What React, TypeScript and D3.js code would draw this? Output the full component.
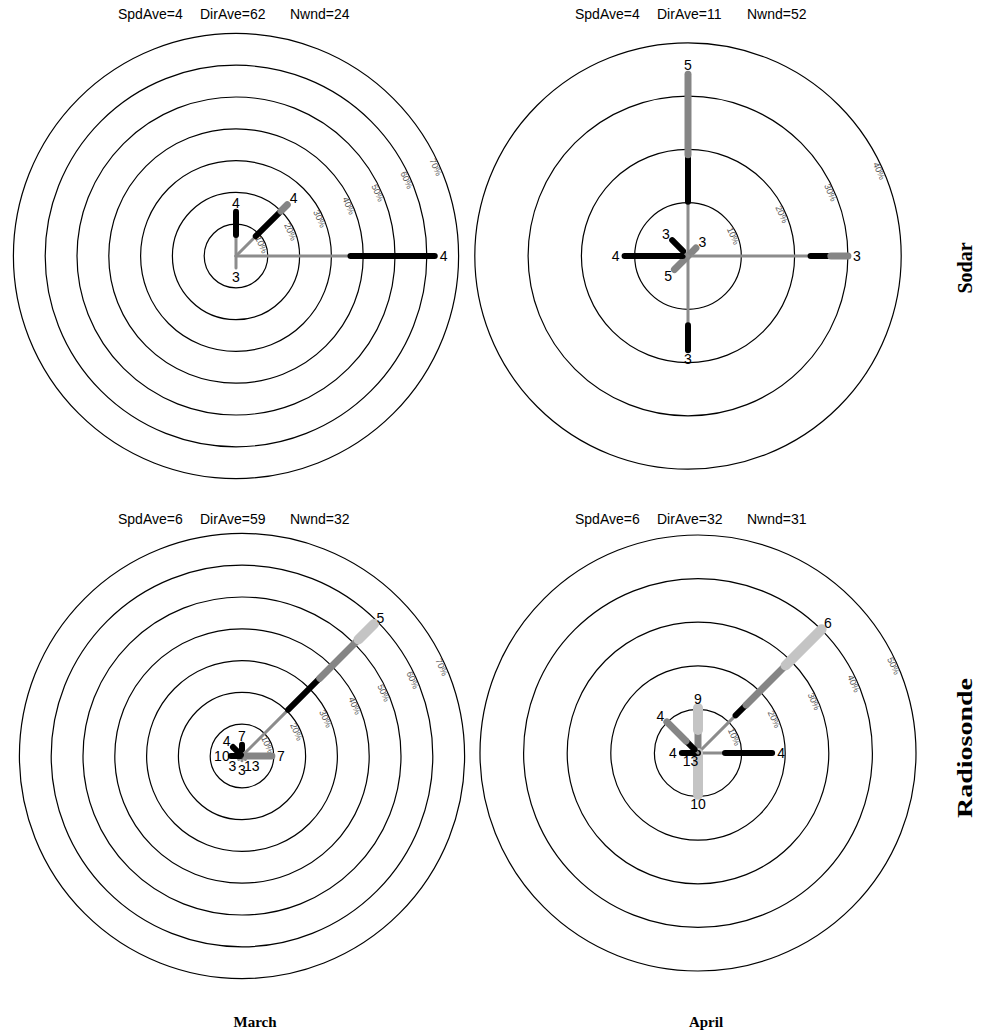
import React from 'react';
import * as d3 from 'd3';

// compass bearings, clockwise from north
const directions = [0, 45, 90, 135, 180, 225, 270, 315];
const ringPercents = [10, 20, 30, 40, 50, 60, 70];
// speed classes, stacked from the centre outwards
const speedClasses = ['c1', 'c2', 'c3', 'c4'];

// percent of winds per direction and speed class
const marchSodarPct = [
  [6.6, 7.3, 0, 0],
  [8.8, 11.2, 2.8, 0],
  [36, 26.5, 0, 0],
  [0, 0, 0, 0],
  [3.8, 0, 0, 0],
  [0, 0, 0, 0],
  [0, 0, 0, 0],
  [0, 0, 0, 0],
];
const marchSodarTip = [4, 4, 4, null, 3, null, null, null];

const aprilSodarPct = [
  [10.2, 8.8, 15.1, 0],
  [0.5, 0, 1.6, 0],
  [23, 3.8, 3.2, 0],
  [0, 0, 0, 0],
  [13, 4.7, 0, 0],
  [0, 0, 3.6, 0],
  [1, 10.9, 0, 0],
  [1.3, 2.9, 0, 0],
];
const aprilSodarTip = [5, 3, 3, null, 3, 5, 4, 3];

const marchRadioPct = [
  [2, 1.5, 0, 0],
  [20.5, 14.1, 17.2, 6.9],
  [0.8, 0, 8.6, 0],
  [1.5, 0, 0, 0],
  [1.5, 0, 0, 0],
  [1.5, 0, 0, 0],
  [0.5, 3, 0, 0],
  [0.5, 3.5, 0, 0],
];
const marchRadioTip = [7, 5, 7, 13, 3, 3, 10, 4];

const aprilRadioPct = [
  [1.1, 0, 4.2, 5.0],
  [12.2, 3.4, 12.8, 11.7],
  [6.2, 10.8, 0, 0],
  [0, 0, 0, 0],
  [0, 0, 0, 9.6],
  [0.4, 0, 0, 0],
  [0, 3.7, 0, 0],
  [1.1, 2.8, 6.2, 0],
];
const aprilRadioTip = [9, 6, 4, null, 10, 13, 4, 4];

const marchSodarStats = ['SpdAve=4', 'DirAve=62', 'Nwnd=24'];
const aprilSodarStats = ['SpdAve=4', 'DirAve=11', 'Nwnd=52'];
const marchRadioStats = ['SpdAve=6', 'DirAve=59', 'Nwnd=32'];
const aprilRadioStats = ['SpdAve=6', 'DirAve=32', 'Nwnd=31'];

const classStyle = [
  { stroke: '#8c8c8c', width: 3 },
  { stroke: '#000000', width: 6 },
  { stroke: '#858585', width: 7 },
  { stroke: '#c4c4c4', width: 10 },
];

const sans = '"Liberation Sans", Arial, sans-serif';
const serif = '"Liberation Serif", "Times New Roman", serif';
const labelBearing = 66;

function Rose({ cx, cy, rings, ringPx, pct, tips }) {
  const r = d3.scaleLinear().domain([0, 10]).range([0, ringPx]);
  const rad = (deg) => (deg * Math.PI) / 180;
  const pt = (deg, v) => d3.pointRadial(rad(deg), r(v));

  return (
    <g transform={`translate(${cx},${cy})`}>
      {ringPercents.slice(0, rings).map((p) => (
        <circle key={p} r={r(p)} fill="none" stroke="#000" strokeWidth={1.2} />
      ))}
      {ringPercents.slice(0, rings).map((p) => {
        const [x, y] = d3.pointRadial(rad(labelBearing), r(p) - 4);
        return (
          <text
            key={'l' + p}
            transform={`translate(${x},${y}) rotate(${labelBearing})`}
            textAnchor="middle"
            dominantBaseline="central"
            fontFamily={sans}
            fontSize={9}
            fill="#555"
          >
            {p}%
          </text>
        );
      })}
      {directions.map((dir, i) => {
        const cum = [0, ...d3.cumsum(pct[i])];
        return speedClasses.map((c, k) => {
          if (pct[i][k] <= 0) return null;
          const [x1, y1] = pt(dir, cum[k]);
          const [x2, y2] = pt(dir, cum[k + 1]);
          return (
            <line
              key={dir + c}
              x1={x1}
              y1={y1}
              x2={x2}
              y2={y2}
              stroke={classStyle[k].stroke}
              strokeWidth={classStyle[k].width}
              strokeLinecap="round"
            />
          );
        });
      })}
      {directions.map((dir, i) => {
        if (tips[i] == null) return null;
        const total = d3.sum(pct[i]);
        const [x, y] = d3.pointRadial(rad(dir), r(total) + 9);
        return (
          <text
            key={'t' + dir}
            x={x}
            y={y}
            textAnchor="middle"
            dominantBaseline="central"
            fontFamily={sans}
            fontSize={14}
            fill="#000"
          >
            {tips[i]}
          </text>
        );
      })}
    </g>
  );
}

function Stats({ x, y, stats }) {
  const offs = [0, 82, 172];
  return (
    <g fontFamily={sans} fontSize={14} fill="#000">
      {stats.map((s, i) => (
        <text key={s} x={x + offs[i]} y={y}>
          {s}
        </text>
      ))}
    </g>
  );
}

export default function App() {
  return (
    <svg
      width={984}
      height={1031}
      style={{ position: 'absolute', left: 0, top: 0, display: 'block', background: '#fff' }}
    >
      <Stats x={118} y={19} stats={marchSodarStats} />
      <Stats x={575} y={19} stats={aprilSodarStats} />
      <Stats x={118} y={524} stats={marchRadioStats} />
      <Stats x={575} y={524} stats={aprilRadioStats} />

      <Rose cx={236} cy={256} rings={7} ringPx={31.8} pct={marchSodarPct} tips={marchSodarTip} />
      <Rose cx={688} cy={256} rings={4} ringPx={53.3} pct={aprilSodarPct} tips={aprilSodarTip} />
      <Rose cx={242} cy={756} rings={7} ringPx={31.8} pct={marchRadioPct} tips={marchRadioTip} />
      <Rose cx={698} cy={753} rings={5} ringPx={43.6} pct={aprilRadioPct} tips={aprilRadioTip} />

      <text
        transform="translate(972,268) rotate(-90)"
        textAnchor="middle"
        fontFamily={serif}
        fontWeight="bold"
        fontSize={20}
      >
        Sodar
      </text>
      <text
        transform="translate(972,748) rotate(-90)"
        textAnchor="middle"
        fontFamily={serif}
        fontWeight="bold"
        fontSize={20}
        textLength={140}
        lengthAdjust="spacingAndGlyphs"
      >
        Radiosonde
      </text>
      <text x={255} y={1027} textAnchor="middle" fontFamily={serif} fontWeight="bold" fontSize={15}>
        March
      </text>
      <text x={706} y={1027} textAnchor="middle" fontFamily={serif} fontWeight="bold" fontSize={15}>
        April
      </text>
    </svg>
  );
}
